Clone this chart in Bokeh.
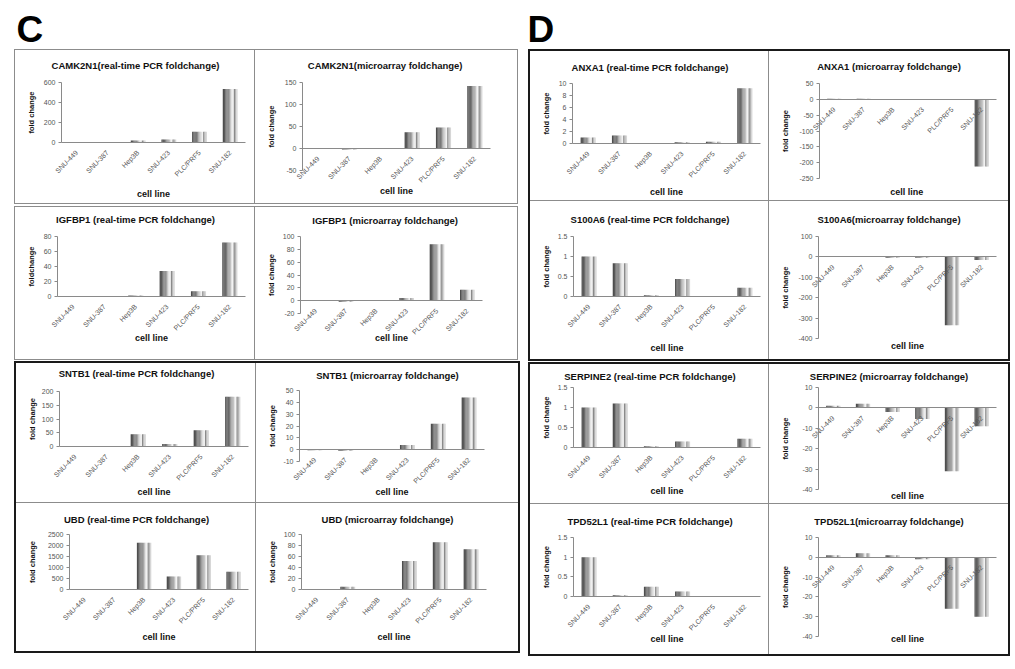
from math import pi
from bokeh.plotting import figure
from bokeh.layouts import row, column, Spacer
from bokeh.models import (Range1d, FixedTicker, CustomJSTickFormatter, Label, ColumnDataSource)
from bokeh.transform import dodge
from bokeh.embed import file_html
from bokeh.resources import INLINE

# ---------------- data ----------------
cell_lines = ["SNU-449", "SNU-387", "Hep3B", "SNU-423", "PLC/PRF5", "SNU-182"]

camk2n1_rt = [2, 1, 20, 30, 108, 535]
camk2n1_ma = [0, -2, 1, 37, 48, 142]
igfbp1_rt = [0.2, 0.1, 1.5, 34, 7, 72]
igfbp1_ma = [0, -1.5, 1, 4, 88, 17]
sntb1_rt = [0, 0, 45, 9, 59, 181]
sntb1_ma = [-0.5, -1, 0.5, 4, 22, 44]
ubd_rt = [10, 5, 2130, 590, 1560, 810]
ubd_ma = [1, 5, 1, 52, 86, 73]
anxa1_rt = [1.0, 1.35, 0.02, 0.2, 0.28, 9.2]
anxa1_ma = [1.5, 2, 0, 0, -1.5, -212]
s100a6_rt = [1.0, 0.83, 0.03, 0.44, 0.0, 0.22]
s100a6_ma = [0, 0, -4, -4, -335, -15]
serpine2_rt = [1.0, 1.1, 0.03, 0.15, 0.01, 0.22]
serpine2_ma = [1, 2, -2, -5.5, -31, -9]
tpd52l1_rt = [1.0, 0.03, 0.25, 0.13, 0.0, 0.0]
tpd52l1_ma = [1, 2, 1, -1, -26, -30]

ticks_camk2n1_rt = [0, 200, 400, 600]
ticks_camk2n1_ma = [-50, 0, 50, 100, 150]
ticks_igfbp1_rt = [0, 20, 40, 60, 80]
ticks_igfbp1_ma = [-20, 0, 20, 40, 60, 80, 100]
ticks_sntb1_rt = [0, 50, 100, 150, 200]
ticks_sntb1_ma = [-10, 0, 10, 20, 30, 40, 50]
ticks_ubd_rt = [0, 500, 1000, 1500, 2000, 2500]
ticks_ubd_ma = [0, 20, 40, 60, 80, 100]
ticks_anxa1_rt = [0, 2, 4, 6, 8, 10]
ticks_anxa1_ma = [-250, -200, -150, -100, -50, 0, 50]
ticks_s100a6_rt = [0, 0.5, 1, 1.5]
ticks_s100a6_ma = [-400, -300, -200, -100, 0, 100]
ticks_serpine2_rt = [0, 0.5, 1, 1.5]
ticks_serpine2_ma = [-40, -30, -20, -10, 0, 10]
ticks_tpd52l1_rt = [0, 0.5, 1, 1.5]
ticks_tpd52l1_ma = [-40, -30, -20, -10, 0, 10]

titles = [
    "CAMK2N1(real-time PCR foldchange)", "CAMK2N1(microarray  foldchange)",
    "IGFBP1 (real-time PCR foldchange)", "IGFBP1 (microarray  foldchange)",
    "SNTB1 (real-time PCR foldchange)", "SNTB1 (microarray foldchange)",
    "UBD (real-time PCR foldchange)", "UBD (microarray foldchange)",
    "ANXA1 (real-time PCR foldchange)", "ANXA1 (microarray foldchange)",
    "S100A6 (real-time PCR foldchange)", "S100A6(microarray foldchange)",
    "SERPINE2 (real-time PCR foldchange)", "SERPINE2 (microarray foldchange)",
    "TPD52L1 (real-time PCR foldchange)", "TPD52L1(microarray foldchange)",
]
series = [camk2n1_rt, camk2n1_ma, igfbp1_rt, igfbp1_ma, sntb1_rt, sntb1_ma, ubd_rt, ubd_ma,
          anxa1_rt, anxa1_ma, s100a6_rt, s100a6_ma, serpine2_rt, serpine2_ma, tpd52l1_rt, tpd52l1_ma]
tick_sets = [ticks_camk2n1_rt, ticks_camk2n1_ma, ticks_igfbp1_rt, ticks_igfbp1_ma,
             ticks_sntb1_rt, ticks_sntb1_ma, ticks_ubd_rt, ticks_ubd_ma,
             ticks_anxa1_rt, ticks_anxa1_ma, ticks_s100a6_rt, ticks_s100a6_ma,
             ticks_serpine2_rt, ticks_serpine2_ma, ticks_tpd52l1_rt, ticks_tpd52l1_ma]
y_labels = ["fold change", "fold change", "foldchange", "fold change"] + ["fold change"] * 12
x_labels = ["cell line"] * 9 + ["cell  line"] + ["cell line"] * 6

# ------- layout geometry: (w, h, plot-left, plot-right margin, plot-top, bottom margin, title_y, xlabel_y) -------
geom = [
    (240, 153, 46, 10, 32, 61, 15, 143), (262, 153, 47, 27, 32, 33, 15, 140),
    (240, 152, 42, 10, 29, 63, 12, 130), (262, 152, 45, 35, 29, 46, 13, 130),
    (240, 140, 43, 8, 28, 57, 10, 128), (262, 140, 43, 34, 27, 42, 12, 128),
    (240, 148, 53, 8, 31, 62, 16, 133), (262, 148, 45, 32, 31, 62, 16, 133),
    (239, 150, 42, 9, 32, 58, 16, 140), (239, 150, 50, 12, 32, 23, 15, 140),
    (239, 158, 43, 9, 35, 63, 18, 146), (239, 158, 49, 12, 35, 21, 18, 144),
    (239, 140, 43, 9, 23, 57, 12, 126), (239, 140, 49, 12, 23, 15, 12, 131),
    (239, 150, 43, 9, 33, 58, 17, 134), (239, 150, 49, 12, 33, 18, 17, 134),
]

STRIPS = ["#4e4e4e", "#5a5a5a", "#686868", "#787878", "#8c8c8c", "#a4a4a4",
          "#c2c2c2", "#e2e2e2", "#f2f2f2", "#8a8a8a", "#b4b4b4", "#d6d6d6"]
BAR_W = 0.48
FONT = "Liberation Sans"
THIN = "1px solid #8c8c8c"
THICK = "2px solid #1a1a1a"


def make_chart(i, styles=None):
    w, h, L, R, T, B, ty, xy = geom[i]
    ticks = tick_sets[i]
    n = len(cell_lines)
    fw = w - L - R
    fh = h - T - B
    ymin, ymax = ticks[0], ticks[-1]
    span = ymax - ymin
    p = figure(width=w, height=h,
               x_range=Range1d(-n * L / fw, n + n * R / fw),
               y_range=Range1d(ymin - span * B / fh, ymax + span * T / fh),
               output_backend="svg", toolbar_location=None, min_border=0,
               outline_line_color=None, background_fill_color="white", border_fill_color="white",
               styles=styles or {})
    p.xgrid.visible = False
    p.ygrid.visible = False

    centers = [k + 0.5 for k in range(n)]
    src = ColumnDataSource(dict(x=centers, top=series[i]))
    sw = BAR_W / len(STRIPS)
    for k, c in enumerate(STRIPS):
        off = -BAR_W / 2 + (k + 0.5) * sw
        p.vbar(x=dodge("x", off), top="top", bottom=0, width=sw * 1.08,
               source=src, fill_color=c, line_color=None)

    ya = p.yaxis[0]
    ya.fixed_location = 0
    ya.bounds = (ymin, ymax)
    ya.ticker = FixedTicker(ticks=ticks)
    ya.formatter = CustomJSTickFormatter(code="return String(tick)")
    ya.minor_tick_line_color = None
    ya.axis_line_color = "#8a8a8a"
    ya.major_tick_line_color = "#8a8a8a"
    ya.major_tick_out = 3
    ya.major_tick_in = 0
    ya.major_label_text_font = FONT
    ya.major_label_text_font_size = "7px"
    ya.major_label_text_color = "#555555"
    ya.major_label_standoff = 3

    xa = p.xaxis[0]
    xa.fixed_location = 0
    xa.bounds = (0, n)
    xa.ticker = FixedTicker(ticks=centers)
    xa.formatter = CustomJSTickFormatter(args=dict(names=cell_lines),
                                         code="return names[Math.round(tick - 0.5)] || ''")
    xa.axis_line_color = "#8a8a8a"
    xa.major_tick_line_color = None
    xa.minor_tick_line_color = None
    xa.major_label_orientation = pi / 4
    xa.major_label_text_font = FONT
    xa.major_label_text_font_size = "7px"
    xa.major_label_text_color = "#555555"
    xa.major_label_standoff = 3

    p.add_layout(Label(x=w / 2, y=h - ty, x_units="screen", y_units="screen",
                       text=titles[i], text_align="center", text_baseline="middle",
                       text_font=FONT, text_font_style="bold", text_font_size="9.5px",
                       text_color="#111111"))
    p.add_layout(Label(x=L + fw / 2, y=h - xy, x_units="screen", y_units="screen",
                       text=x_labels[i], text_align="center", text_baseline="middle",
                       text_font=FONT, text_font_style="bold", text_font_size="9px",
                       text_color="#111111"))
    p.add_layout(Label(x=16, y=B + fh / 2, x_units="screen", y_units="screen", angle=pi / 2,
                       text=y_labels[i], text_align="center", text_baseline="middle",
                       text_font=FONT, text_font_style="bold", text_font_size="7.5px",
                       text_color="#111111"))
    return p


br = {"border-right": THIN}
bb = {"border-bottom": THIN}
bbr = {"border-right": THIN, "border-bottom": THIN}

c1 = row([make_chart(0, br), make_chart(1)], styles={"border": THIN})
c2 = row([make_chart(2, br), make_chart(3)], styles={"border": THIN})
c34 = column([row([make_chart(4, bbr), make_chart(5, bb)]),
              row([make_chart(6, br), make_chart(7)])], styles={"border": THICK})
groupC = column([c1, Spacer(height=2), c2, Spacer(height=1), c34])

d12 = column([row([make_chart(8, bbr), make_chart(9, bb)]),
              row([make_chart(10, br), make_chart(11)])], styles={"border": THICK})
d34 = column([row([make_chart(12, bbr), make_chart(13, bb)]),
              row([make_chart(14, br), make_chart(15)])], styles={"border": THICK})
groupD = column([d12, Spacer(height=1), d34])

header = figure(width=1015, height=49, x_range=Range1d(0, 1015), y_range=Range1d(0, 49),
                output_backend="svg", toolbar_location=None, min_border=0,
                outline_line_color=None, x_axis_type=None, y_axis_type=None)
header.xgrid.visible = False
header.ygrid.visible = False
for txt, xpos in (("C", 16), ("D", 527)):
    header.add_layout(Label(x=xpos, y=0, x_units="screen", y_units="screen", text=txt,
                            text_font=FONT, text_font_style="bold", text_font_size="37px",
                            text_baseline="bottom", text_color="black"))

layout = column([header, row([Spacer(width=14), groupC, Spacer(width=8), groupD])])

open("out.html", "w").write(file_html(layout, INLINE))
